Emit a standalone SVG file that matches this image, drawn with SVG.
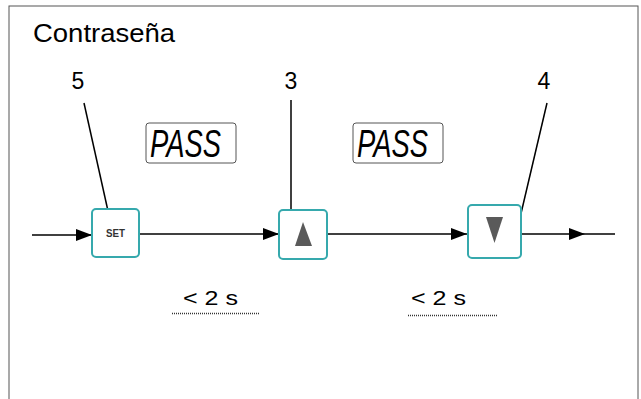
<svg xmlns="http://www.w3.org/2000/svg" width="641" height="399" viewBox="0 0 641 399">
<style>
.t{font-family:"Liberation Sans",Arial,sans-serif;fill:#000}
.btn{fill:#fff;stroke:#36a9ad;stroke-width:2}
.tri{fill:#5a5a5a}
.ln{stroke:#000;stroke-width:1.5;fill:none}
.lcd{fill:#fff;stroke:#555;stroke-width:1}
.seg{font-family:"Liberation Sans",Arial,sans-serif;font-style:italic;fill:#000}
.dot{stroke:#333;stroke-width:1.5;stroke-dasharray:1 1}
</style>
<defs>
<marker id="ah" viewBox="0 0 16 12" refX="16" refY="6" markerWidth="16" markerHeight="12" markerUnits="userSpaceOnUse" orient="auto">
<path d="M0,0 L16,6 L0,12 Z" fill="#000"/>
</marker>
</defs>
<rect x="9" y="6" width="629" height="400" fill="#fff" stroke="#555" stroke-width="1"/>
<text class="t" x="33" y="42" font-size="26" textLength="142" lengthAdjust="spacingAndGlyphs">Contraseña</text>
<g id="connectors">
<line class="ln" x1="32" y1="235" x2="92" y2="235" marker-end="url(#ah)"/>
<line class="ln" x1="140" y1="234" x2="279" y2="234" marker-end="url(#ah)"/>
<line class="ln" x1="328" y1="234" x2="467" y2="234" marker-end="url(#ah)"/>
<line class="ln" x1="521" y1="234" x2="585" y2="234" marker-end="url(#ah)"/>
<line class="ln" x1="585" y1="234" x2="615" y2="234"/>
<line class="ln" x1="84" y1="103" x2="110" y2="220"/>
<line class="ln" x1="291" y1="100" x2="291" y2="216"/>
<line class="ln" x1="547" y1="103" x2="519" y2="222"/>
</g>
<g id="label5"><text class="t" x="78" y="89" font-size="23" text-anchor="middle">5</text></g>
<g id="label3"><text class="t" x="291" y="89" font-size="23" text-anchor="middle">3</text></g>
<g id="label4"><text class="t" x="544" y="89" font-size="23" text-anchor="middle">4</text></g>
<g id="display1">
<rect class="lcd" x="146" y="123" width="90" height="40" rx="3"/>
<text class="seg" x="150" y="157" font-size="39" textLength="71" lengthAdjust="spacingAndGlyphs">PASS</text>
</g>
<g id="display2">
<rect class="lcd" x="353" y="123" width="90" height="40" rx="3"/>
<text class="seg" x="357" y="157" font-size="39" textLength="71" lengthAdjust="spacingAndGlyphs">PASS</text>
</g>
<g id="btnSet">
<rect class="btn" x="92" y="209" width="47" height="48" rx="4"/>
<text x="115.5" y="237" font-family="Liberation Sans,Arial,sans-serif" font-size="11" font-weight="bold" fill="#333" text-anchor="middle" textLength="19" lengthAdjust="spacingAndGlyphs">SET</text>
</g>
<g id="btnUp">
<rect class="btn" x="279" y="210" width="48" height="49" rx="4"/>
<polygon class="tri" points="303,222 312,246 295,246"/>
</g>
<g id="btnDown">
<rect class="btn" x="468" y="205" width="53" height="53" rx="4"/>
<polygon class="tri" points="486,217 503,217 494.5,243"/>
</g>
<g id="time1">
<text class="t" x="183" y="305" font-size="20" textLength="55" lengthAdjust="spacingAndGlyphs">&lt; 2 s</text>
<line class="dot" x1="172" y1="313.5" x2="259" y2="313.5"/>
</g>
<g id="time2">
<text class="t" x="411" y="305" font-size="20" textLength="55" lengthAdjust="spacingAndGlyphs">&lt; 2 s</text>
<line class="dot" x1="408" y1="315.5" x2="497" y2="315.5"/>
</g>
</svg>
